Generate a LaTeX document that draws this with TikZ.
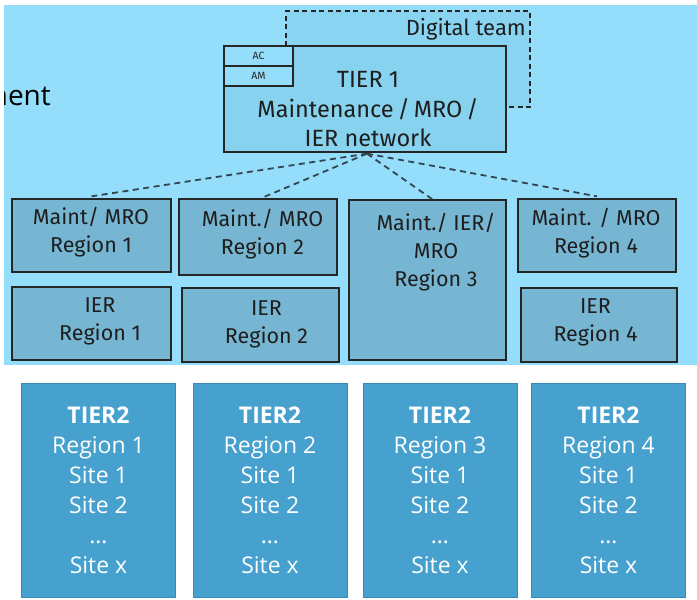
\documentclass[tikz,border=0pt]{standalone}
\usepackage{fontspec}
\setmainfont{Fira Sans}
\newfontfamily\tfont{Open Sans}
\definecolor{bgblue}{HTML}{94DDFB}
\definecolor{dtfill}{HTML}{89D4F1}
\definecolor{t1fill}{HTML}{87D2EE}
\definecolor{regfill}{HTML}{77B6D2}
\definecolor{t2fill}{HTML}{47A1CF}
\definecolor{t2line}{HTML}{3A88B6}
\definecolor{linec}{HTML}{262626}
\definecolor{txt}{HTML}{1E1E1E}
\definecolor{dashc}{HTML}{34454F}
\tikzset{
  regbox/.style={draw=linec, line width=1.3pt, fill=regfill, inner sep=0pt},
  regtext/.style={font=\fontsize{21.5}{28}\selectfont, text=txt, align=center, inner sep=0pt},
  smallbox/.style={draw=linec, line width=1.2pt, fill=bgblue, inner sep=0pt, font=\fontsize{10.5}{12}\selectfont, text=linec},
  t2box/.style={draw=t2line, line width=1pt, fill=t2fill, minimum width=154pt, minimum height=214pt, inner sep=0pt,
    font=\tfont\fontsize{23}{30}\selectfont, text=white, align=center},
  conn/.style={draw=dashc, line width=1.8pt, dash pattern=on 6pt off 4.5pt},
  dtline/.style={draw=linec, line width=1.3pt, dash pattern=on 5pt off 3.5pt},
}
\begin{document}
\begin{tikzpicture}[x=1pt,y=-1pt]
\useasboundingbox[fill=white] (0,0) rectangle (697,600);
\fill[bgblue] (4,5) rectangle (697,365);
\begin{scope}
  \clip (4,5) rectangle (697,365);
  \node[anchor=base east, inner sep=0pt, font=\tfont\fontsize{28}{32}\selectfont, text=black] (side) at (51,105) {ment};
\end{scope}
% digital team
\fill[dtfill] (286,11) rectangle (530,107);
\draw[dtline] (286,46) -- (286,11) -- (530,11) -- (530,107) -- (506,107);
\node[anchor=base east, inner sep=0pt, font=\fontsize{22}{26}\selectfont, text=txt] (dt) at (526,35) {Digital team};
% tier 1
\node[draw=linec, line width=1.3pt, fill=t1fill, minimum width=282pt, minimum height=106pt, inner sep=0pt] (t1) at (365,99) {};
\node[regtext, font=\fontsize{23.5}{29.5}\selectfont] (t1t) at (368,109.5) {TIER 1\\Maintenance\,/\,MRO\,/\\IER network};
\node[smallbox, minimum width=69pt, minimum height=20pt] (ac) at (258.5,56) {AC};
\node[smallbox, minimum width=69pt, minimum height=20pt] (am) at (258.5,76) {AM};
% regions
\node[regbox, minimum width=159pt, minimum height=73pt] (r1m) at (91.5,235.5) {};
\node[regbox, minimum width=158pt, minimum height=76pt] (r2m) at (258,237) {};
\node[regbox, minimum width=157pt, minimum height=160pt] (r3) at (427.5,280) {};
\node[regbox, minimum width=158pt, minimum height=73pt] (r4m) at (597,235.5) {};
\node[regbox, minimum width=159pt, minimum height=73pt] (r1i) at (91.5,323.5) {};
\node[regbox, minimum width=157pt, minimum height=74pt] (r2i) at (260.5,325) {};
\node[regbox, minimum width=156pt, minimum height=74pt] (r4i) at (599,325) {};
\node[regtext] (r1mt) at (91,232) {Maint/ MRO\\Region 1};
\node[regtext] (r2mt) at (262.5,234) {Maint./ MRO\\Region 2};
\node[regtext] (r3t) at (436,252.5) {Maint./ IER/\\MRO\\Region 3};
\node[regtext] (r4mt) at (596,233) {Maint. / MRO\\Region 4};
\node[regtext] (r1it) at (100,321.5) {IER\\Region 1};
\node[regtext] (r2it) at (266.5,324) {IER\\Region 2};
\node[regtext] (r4it) at (595.5,322) {IER\\Region 4};
% connectors
\coordinate (hub) at ([xshift=2pt,yshift=-1pt]t1.south);
\draw[conn] (hub) -- ([yshift=2pt]r1m.north);
\draw[conn] (hub) -- ([xshift=5pt,yshift=1pt]r2m.north);
\draw[conn] (hub) -- ([xshift=5pt]r3.north);
\draw[conn] (hub) -- ([yshift=2pt]r4m.north);
% tier 2
\node[t2box] (t2a) at (98.5,490) {\textbf{TIER2}\\Region 1\\Site 1\\Site 2\\…\\Site x};
\node[t2box] (t2b) at (270,490) {\textbf{TIER2}\\Region 2\\Site 1\\Site 2\\…\\Site x};
\node[t2box] (t2c) at (440,490) {\textbf{TIER2}\\Region 3\\Site 1\\Site 2\\…\\Site x};
\node[t2box] (t2d) at (608.5,490) {\textbf{TIER2}\\Region 4\\Site 1\\Site 2\\…\\Site x};
\end{tikzpicture}
\end{document}
